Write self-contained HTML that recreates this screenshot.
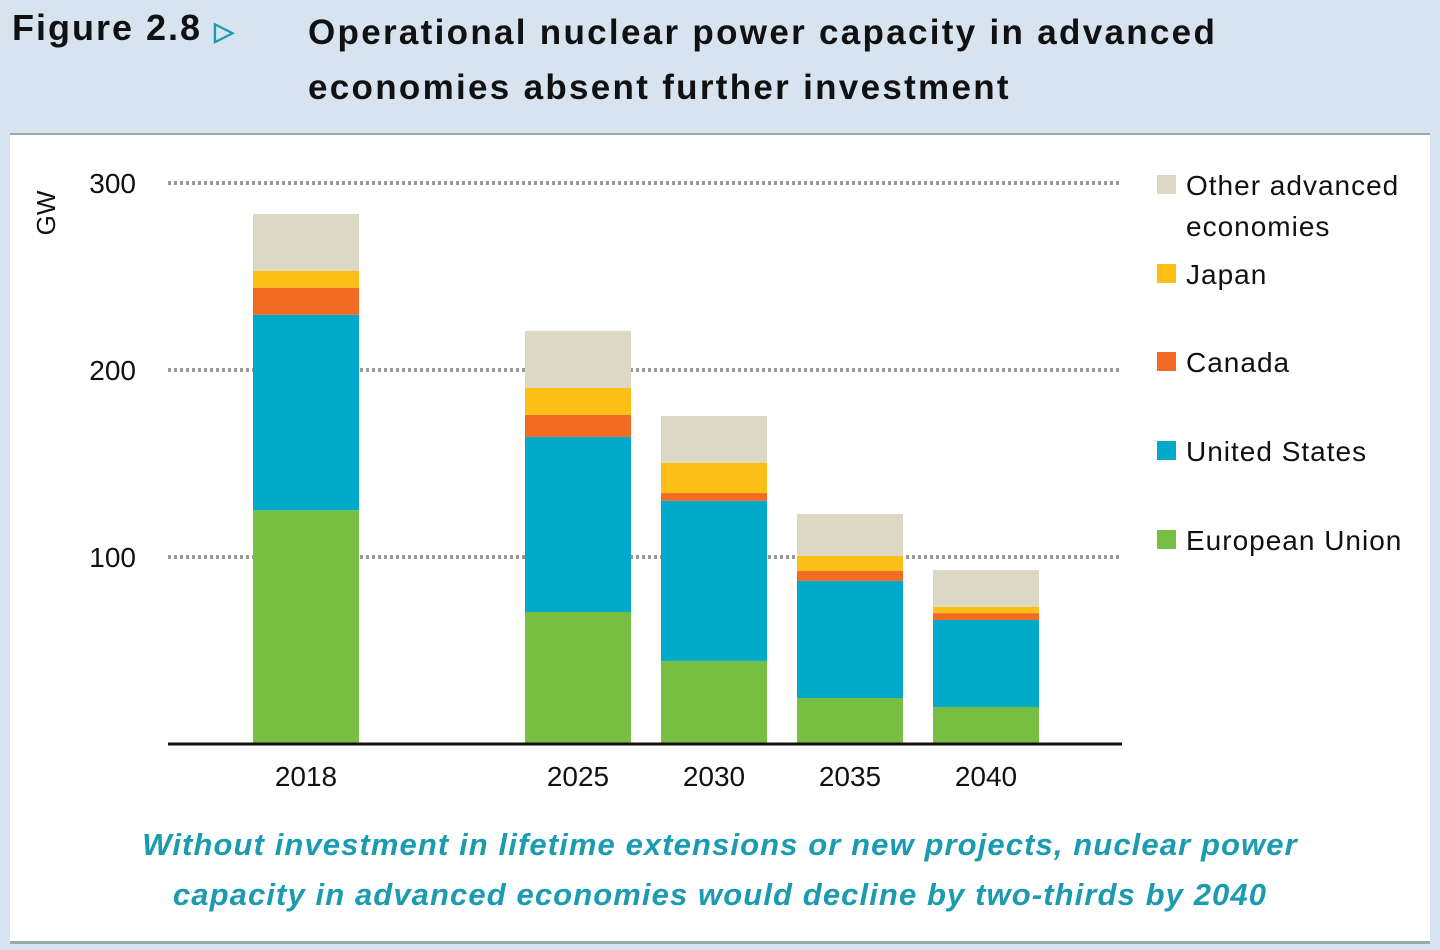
<!DOCTYPE html>
<html><head><meta charset="utf-8"><style>
body{margin:0;width:1440px;height:950px;background:#d7e4f0;font-family:"Liberation Sans",sans-serif;overflow:hidden;position:relative}
.t{position:absolute;white-space:nowrap}
</style></head><body>
<div class="t" style="left:12px;top:7px;font-size:36px;font-weight:bold;color:#111;letter-spacing:2px">Figure 2.8 <span style="color:#1a9bb0;font-size:26px">&#9655;</span></div>
<div class="t" style="left:308px;top:5px;font-size:35px;font-weight:bold;color:#111;line-height:55px;letter-spacing:2.3px">Operational nuclear power capacity in advanced<br>economies absent further investment</div>
<div style="position:absolute;left:10px;top:133px;width:1420px;height:806px;background:#fff;border-top:2px solid #9aa;border-bottom:3px solid #9aa"></div>
<svg id="c" width="1440" height="950" style="position:absolute;left:0;top:0" font-family="Liberation Sans, sans-serif"></svg>
<div class="t" style="left:0;width:1440px;top:820px;text-align:center;font-size:31px;font-weight:bold;font-style:italic;color:#1a9bb0;line-height:50px;letter-spacing:1.1px">Without investment in lifetime extensions or new projects, nuclear power<br>capacity in advanced economies would decline by two-thirds by 2040</div>
<script>
const categories=["2018","2025","2030","2035","2040"];
const euValues=[125,70.6,44.4,24.6,19.8];
const usValues=[104.5,93.6,85.6,62.6,46.5];
const canadaValues=[14.5,11.8,4.2,5.3,3.7];
const japanValues=[9,14.4,16.1,8,3.3];
const otherValues=[30.5,30.5,25.1,22.5,19.7];
const yTicks=[100,200,300];
const seriesNames=["European Union","United States","Canada","Japan","Other advanced economies"];
const seriesColors=["#76bf43","#00aac8","#f26b23","#fbbf16","#ddd8c4"];
const series=[euValues,usValues,canadaValues,japanValues,otherValues];
const NS="http://www.w3.org/2000/svg";
const svg=document.getElementById('c');
const y=v=>744-v*1.87;
const x=i=>306+(i===0?0:i+1)*136;
function mk(t,a){const e=document.createElementNS(NS,t);for(const k in a)e.setAttribute(k,a[k]);svg.appendChild(e);return e;}
yTicks.forEach(v=>{
 const g=mk('line',{x1:168,x2:1122,y1:y(v),y2:y(v),stroke:'#999','stroke-width':4,'stroke-dasharray':'3 3'});
 
 
 const t=mk('text',{x:136,y:y(v)+10,'text-anchor':'end','font-size':28,fill:'#111'});t.textContent=v;
 
 
});
categories.forEach((c,i)=>{
 let base=0;
 series.forEach((s,k)=>{
  const r=mk('rect',{x:x(i)-53,width:106,y:y(base+s[i]),height:s[i]*1.87,fill:seriesColors[k]});
  
  
  base+=s[i];
 });
 const t=mk('text',{x:x(i),y:786,'text-anchor':'middle','font-size':28,fill:'#111'});t.textContent=c;
 
 
});
const ax=mk('line',{x1:168,x2:1122,y1:744,y2:744,stroke:'#111','stroke-width':3});


const gw=mk('text',{x:0,y:0,transform:'translate(55,213) rotate(-90)','text-anchor':'middle','font-size':26,fill:'#111'});gw.textContent='GW';


const legY=[185,274,362,451,540];
[4,3,2,1,0].forEach((k,j)=>{
 const r=mk('rect',{x:1157,y:legY[j]-10,width:19,height:19,fill:seriesColors[k]});
 
 
 const t=mk('text',{x:1186,y:legY[j]+10,'font-size':28,fill:'#111','letter-spacing':1});
 
 
 if(k===4){t.textContent='Other advanced';const t2=mk('text',{x:1186,y:legY[j]+51,'font-size':28,fill:'#111','letter-spacing':1});t2.textContent='economies';
  
  }
 else t.textContent=seriesNames[k];
});
</script>
</body></html>
